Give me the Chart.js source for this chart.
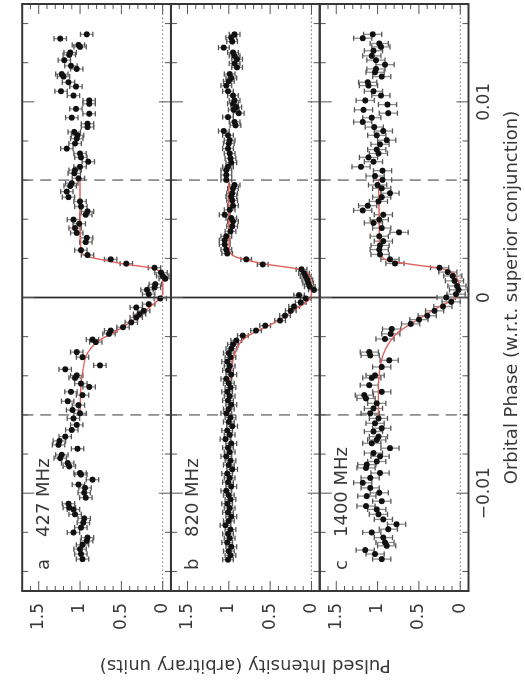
<!DOCTYPE html>
<html>
<head>
<meta charset="utf-8">
<script src="https://cdn.jsdelivr.net/npm/chart.js@4.4.1/dist/chart.umd.min.js"></script>
<style>
html, body { margin: 0; padding: 0; background: #fff; overflow: hidden; }
#turn { position: absolute; left: 0; top: 0; width: 683px; height: 525px;
        transform-origin: 0 0; transform: translate(0, 683px) rotate(-90deg); }
</style>
</head>
<body>
<div id="turn"><canvas id="fig" width="683" height="525"></canvas></div>
<script>
// panel a, 427 MHz
var phaseA = [0.01345, 0.01323, 0.01291, 0.01281, 0.01252, 0.01240, 0.01213, 0.01184, 0.01168, 0.01142,
    0.01129, 0.01100, 0.01078, 0.01054, 0.01032, 0.01007, 0.00990, 0.00964, 0.00939, 0.00919,
    0.00888, 0.00871, 0.00846, 0.00829, 0.00812, 0.00787, 0.00761, 0.00736, 0.00716, 0.00694,
    0.00668, 0.00651, 0.00635, 0.00609, 0.00584, 0.00570, 0.00541, 0.00513, 0.00491, 0.00465,
    0.00440, 0.00423, 0.00398, 0.00377, 0.00355, 0.00330, 0.00305, 0.00283, 0.00242, 0.00217,
    0.00195, 0.00173, 0.00152, 0.00127, 0.00110, 0.00096, 0.00068, 0.00051, 0.00039, 0.00017,
    -0.00005, -0.00034, -0.00051, -0.00068, -0.00085, -0.00102, -0.00127, -0.00152, -0.00169, -0.00186,
    -0.00215, -0.00228, -0.00279, -0.00305, -0.00347, -0.00367, -0.00398, -0.00411, -0.00440, -0.00457,
    -0.00482, -0.00499, -0.00530, -0.00550, -0.00575, -0.00592, -0.00618, -0.00651, -0.00677, -0.00711,
    -0.00733, -0.00753, -0.00773, -0.00804, -0.00821, -0.00846, -0.00863, -0.00897, -0.00905, -0.00931,
    -0.00956, -0.00973, -0.00998, -0.01023, -0.01054, -0.01074, -0.01083, -0.01108, -0.01129, -0.01151,
    -0.01176, -0.01201, -0.01227, -0.01244, -0.01264, -0.01286, -0.01311, -0.01337];
var intA = [0.92, 1.24, 1.02, 1.00, 1.12, 1.13, 1.19, 1.11, 1.04, 1.22,
    1.20, 1.14, 1.05, 1.23, 1.08, 0.89, 0.89, 1.05, 0.89, 1.10,
    0.91, 0.91, 1.07, 1.03, 1.04, 1.06, 1.16, 1.00, 0.99, 0.90,
    1.00, 1.06, 1.07, 1.02, 1.10, 1.12, 1.16, 1.14, 1.00, 0.99,
    0.91, 0.93, 1.08, 1.01, 1.06, 1.04, 0.92, 0.93, 0.99, 0.91,
    0.63, 0.44, 0.10, 0.02, 0.00, -0.03, 0.09, 0.10, 0.19, 0.17,
    0.03, 0.17, 0.32, 0.23, 0.28, 0.32, 0.38, 0.48, 0.63, 0.65,
    0.85, 0.81, 1.04, 0.97, 0.76, 1.18, 1.04, 1.06, 0.99, 0.89,
    1.11, 0.97, 1.15, 1.02, 1.09, 1.00, 1.08, 1.04, 1.10, 1.18,
    1.25, 1.26, 1.03, 1.22, 1.24, 1.15, 1.13, 1.00, 0.99, 0.85,
    1.02, 0.94, 0.95, 0.93, 1.14, 1.13, 1.08, 1.06, 0.95, 0.96,
    0.99, 1.08, 0.91, 0.92, 0.97, 1.00, 0.99, 0.97];
var errA = 0.075;

// panel b, 820 MHz
var phaseB = [0.01345, 0.01328, 0.01308, 0.01277, 0.01252, 0.01235, 0.01218, 0.01196, 0.01176, 0.01142,
    0.01122, 0.01105, 0.01083, 0.01054, 0.01032, 0.01007, 0.00990, 0.00973, 0.00959, 0.00942,
    0.00922, 0.00897, 0.00880, 0.00851, 0.00829, 0.00804, 0.00787, 0.00761, 0.00736, 0.00711,
    0.00689, 0.00668, 0.00651, 0.00626, 0.00601, 0.00575, 0.00558, 0.00533, 0.00516, 0.00496,
    0.00469, 0.00448, 0.00423, 0.00406, 0.00389, 0.00364, 0.00338, 0.00313, 0.00293, 0.00271,
    0.00245, 0.00225, 0.00195, 0.00169, 0.00144, 0.00124, 0.00107, 0.00090, 0.00073, 0.00056,
    0.00039, 0.00012, -0.00005, -0.00025, -0.00046, -0.00068, -0.00093, -0.00118, -0.00144, -0.00169,
    -0.00195, -0.00220, -0.00240, -0.00262, -0.00284, -0.00306, -0.00328, -0.00350, -0.00372, -0.00394,
    -0.00416, -0.00438, -0.00460, -0.00482, -0.00504, -0.00526, -0.00548, -0.00570, -0.00592, -0.00614,
    -0.00636, -0.00658, -0.00680, -0.00702, -0.00724, -0.00746, -0.00768, -0.00790, -0.00812, -0.00834,
    -0.00856, -0.00878, -0.00900, -0.00922, -0.00944, -0.00966, -0.00988, -0.01010, -0.01032, -0.01054,
    -0.01076, -0.01098, -0.01120, -0.01142, -0.01164, -0.01186, -0.01208, -0.01230, -0.01252, -0.01274,
    -0.01296, -0.01318, -0.01340];
var intB = [0.93, 0.97, 0.96, 1.06, 0.95, 0.93, 0.90, 0.93, 0.90, 0.99,
    0.97, 1.00, 1.03, 1.01, 0.95, 0.93, 0.95, 0.91, 0.94, 0.88,
    1.01, 0.93, 0.92, 1.06, 1.01, 0.99, 1.00, 1.01, 0.99, 0.98,
    0.97, 1.01, 1.03, 1.03, 1.03, 0.93, 0.95, 0.96, 0.97, 0.96,
    0.95, 0.99, 1.05, 0.97, 0.95, 0.96, 0.98, 1.03, 1.05, 1.05,
    1.03, 1.02, 0.79, 0.59, 0.12, 0.09, 0.07, 0.05, 0.04, 0.02,
    -0.03, 0.15, 0.07, 0.13, 0.21, 0.25, 0.32, 0.38, 0.56, 0.67,
    0.83, 0.91, 0.95, 0.97, 1.00, 0.98, 1.02, 0.99, 1.01, 0.97,
    1.03, 1.00, 0.98, 1.02, 0.99, 1.01, 0.97, 1.00, 1.03, 0.98,
    1.00, 0.96, 1.02, 0.99, 1.04, 0.97, 1.01, 0.99, 1.03, 0.98,
    1.00, 0.96, 1.02, 0.99, 1.01, 0.97, 1.03, 1.00, 0.98, 1.02,
    0.99, 1.01, 0.97, 1.00, 1.04, 0.98, 1.01, 0.99, 1.02, 0.97,
    1.00, 0.98, 1.01];
var errB = 0.065;

// panel c, 1400 MHz
var phaseC = [0.01345, 0.01325, 0.01298, 0.01281, 0.01261, 0.01235, 0.01213, 0.01190, 0.01168, 0.01151,
    0.01129, 0.01100, 0.01083, 0.01054, 0.01032, 0.01007, 0.00986, 0.00959, 0.00942, 0.00919,
    0.00897, 0.00871, 0.00851, 0.00829, 0.00804, 0.00783, 0.00756, 0.00736, 0.00716, 0.00694,
    0.00668, 0.00648, 0.00621, 0.00601, 0.00575, 0.00558, 0.00533, 0.00513, 0.00491, 0.00469,
    0.00445, 0.00423, 0.00398, 0.00381, 0.00355, 0.00333, 0.00313, 0.00288, 0.00266, 0.00245,
    0.00220, 0.00195, 0.00174, 0.00152, 0.00130, 0.00110, 0.00085, 0.00059, 0.00039, 0.00017,
    0.00000, -0.00022, -0.00046, -0.00068, -0.00093, -0.00113, -0.00135, -0.00161, -0.00186, -0.00212,
    -0.00279, -0.00296, -0.00321, -0.00355, -0.00398, -0.00411, -0.00448, -0.00482, -0.00499, -0.00516,
    -0.00541, -0.00567, -0.00592, -0.00618, -0.00643, -0.00668, -0.00685, -0.00711, -0.00728, -0.00745,
    -0.00770, -0.00795, -0.00812, -0.00838, -0.00854, -0.00871, -0.00897, -0.00922, -0.00947, -0.00973,
    -0.00998, -0.01015, -0.01041, -0.01066, -0.01083, -0.01108, -0.01134, -0.01159, -0.01184, -0.01201,
    -0.01227, -0.01252, -0.01269, -0.01291, -0.01311, -0.01337];
var intC = [1.06, 1.18, 0.98, 0.96, 1.05, 1.07, 1.02, 0.91, 1.02, 1.03,
    0.95, 1.12, 1.11, 1.05, 0.96, 1.15, 0.88, 1.17, 0.87, 1.07,
    1.18, 1.04, 0.93, 1.01, 0.89, 0.97, 1.01, 0.99, 1.11, 1.05,
    1.20, 0.94, 1.03, 0.94, 1.00, 0.95, 0.85, 0.95, 0.99, 1.12,
    1.18, 0.93, 0.98, 1.05, 0.95, 0.74, 0.98, 0.93, 0.97, 0.98,
    0.97, 0.85, 0.79, 0.25, 0.15, 0.09, 0.07, 0.04, 0.02, 0.05,
    0.17, 0.11, 0.21, 0.31, 0.40, 0.50, 0.60, 0.83, 0.84, 0.91,
    1.10, 1.09, 0.86, 0.95, 1.03, 1.07, 1.10, 0.95, 1.16, 1.14,
    1.01, 1.05, 1.09, 0.99, 1.03, 0.95, 1.05, 0.99, 1.01, 1.07,
    0.85, 1.05, 0.97, 1.01, 1.13, 1.14, 0.97, 1.09, 1.18, 1.09,
    0.98, 1.13, 0.95, 1.14, 1.01, 0.99, 0.93, 0.77, 0.87, 1.07,
    0.93, 0.91, 0.89, 1.15, 1.03, 0.95];
var errC = 0.11;

// fitted eclipse model (red curve)
var modelPhase = [-0.0060, -0.0045, -0.0036, -0.0030, -0.0026, -0.0022, -0.0018, -0.0014, -0.0010, -0.0006,
    -0.0003, 0.0000, 0.0002, 0.0006, 0.0010, 0.0013, 0.0015, 0.0017, 0.0019, 0.0021, 0.0024, 0.0040, 0.0060];
var modelA = [1.00, 0.99, 0.96, 0.93, 0.87, 0.77, 0.60, 0.44, 0.30, 0.19,
    0.10, 0.03, 0.00, 0.00, 0.00, 0.03, 0.12, 0.45, 0.70, 0.91, 0.99, 1.00, 1.00];
var modelB = [1.00, 0.99, 0.97, 0.94, 0.90, 0.84, 0.70, 0.50, 0.33, 0.20,
    0.08, 0.01, 0.00, 0.00, 0.02, 0.06, 0.22, 0.55, 0.77, 0.93, 0.99, 1.00, 1.00];
var modelC = [0.99, 0.99, 0.97, 0.94, 0.90, 0.84, 0.76, 0.62, 0.46, 0.31,
    0.17, 0.05, 0.02, 0.01, 0.04, 0.10, 0.25, 0.60, 0.88, 0.95, 0.97, 0.98, 0.99];

var phaseTicks = [-0.01, 0, 0.01];
var intensityTicks = [0, 0.5, 1, 1.5];
var limbPhase = [-0.006, 0.006];
var panelNames = ['a', 'b', 'c'];
var bands = ['427 MHz', '820 MHz', '1400 MHz'];

var axisIds = ['ya', 'yb', 'yc'];
var FONT = 'DejaVu Sans';
var INK = '#383838';

function pts(xs, ys) {
    return xs.map(function(x, i) { return { x: x, y: ys[i] }; });
}

function line(ctx, x1, y1, x2, y2) {
    ctx.beginPath();
    ctx.moveTo(x1, y1);
    ctx.lineTo(x2, y2);
    ctx.stroke();
}

var panelDeco = {
    id: 'panelDeco',
    beforeDatasetsDraw: function(chart) {
        var ctx = chart.ctx, x = chart.scales.x;
        ctx.save();
        axisIds.forEach(function(id) {
            var y = chart.scales[id];
            var y0 = y.getPixelForValue(0);
            ctx.strokeStyle = '#777';
            ctx.lineWidth = 1;
            ctx.setLineDash([1.5, 2.5]);
            line(ctx, x.left, y0, x.right, y0);
            ctx.strokeStyle = '#8a8a8a';
            ctx.lineWidth = 1.7;
            ctx.setLineDash([11, 7]);
            limbPhase.forEach(function(p) {
                var px = x.getPixelForValue(p);
                line(ctx, px, y.top, px, y.bottom);
            });
            ctx.setLineDash([]);
            ctx.strokeStyle = '#2a2a2a';
            ctx.lineWidth = 1.7;
            var pz = x.getPixelForValue(0);
            line(ctx, pz, y.top, pz, y.bottom);
        });
        // error bars
        chart.data.datasets.forEach(function(ds) {
            if (!ds.err) return;
            var y = chart.scales[ds.yAxisID];
            ds.data.forEach(function(p) {
                var px = x.getPixelForValue(p.x);
                var lo = y.getPixelForValue(p.y - ds.err);
                var hi = y.getPixelForValue(p.y + ds.err);
                ctx.strokeStyle = '#8c8c8c';
                ctx.lineWidth = 1.3;
                line(ctx, px, lo, px, hi);
                ctx.strokeStyle = '#555';
                line(ctx, px - 2.6, lo, px + 2.6, lo);
                line(ctx, px - 2.6, hi, px + 2.6, hi);
            });
        });
        ctx.restore();
    },
    afterDatasetsDraw: function(chart) {
        var ctx = chart.ctx, x = chart.scales.x;
        ctx.save();
        axisIds.forEach(function(id, i) {
            var y = chart.scales[id];
            ctx.strokeStyle = '#555';
            ctx.lineWidth = 1;
            for (var k = -7; k <= 7; k++) {
                var px = x.getPixelForValue(k * 0.002);
                var len = (k % 5 === 0) ? 12 : 6;
                line(ctx, px, y.top, px, y.top + len);
                line(ctx, px, y.bottom, px, y.bottom - len);
            }
            for (var j = -1; j <= 17; j++) {
                var py = y.getPixelForValue(j / 10);
                var l2 = (j % 5 === 0) ? 10 : 5;
                line(ctx, x.left, py, x.left + l2, py);
                line(ctx, x.right, py, x.right - l2, py);
            }
            ctx.strokeStyle = INK;
            ctx.lineWidth = 2;
            ctx.strokeRect(x.left, y.top, x.right - x.left, y.bottom - y.top);
            ctx.fillStyle = INK;
            ctx.font = '18px "' + FONT + '"';
            ctx.textBaseline = 'alphabetic';
            ctx.fillText(panelNames[i], x.left + 21, y.top + 27);
            ctx.fillText(bands[i], x.left + 54, y.top + 27);
        });
        ctx.restore();
    }
};

function yAxis(title) {
    return {
        type: 'linear',
        position: 'left',
        stack: 'pulse',
        stackWeight: 1,
        min: -0.1,
        max: 1.7,
        offset: false,
        grid: { display: false, drawTicks: false },
        border: { display: false },
        afterBuildTicks: function(s) {
            s.ticks = intensityTicks.map(function(v) { return { value: v }; });
        },
        ticks: {
            padding: 12,
            color: INK,
            font: { family: FONT, size: 17 },
            callback: function(v) { return String(v); }
        },
        title: {
            display: !!title,
            text: title || '',
            color: INK,
            font: { family: FONT, size: 18 },
            padding: { top: 8, bottom: 0 }
        },
        afterFit: function(s) { s.width = 92; }
    };
}

var datasets = [];
[[phaseA, intA, errA, modelA], [phaseB, intB, errB, modelB], [phaseC, intC, errC, modelC]].forEach(function(p, i) {
    datasets.push({
        data: pts(p[0], p[1]),
        yAxisID: axisIds[i],
        err: p[2],
        pointRadius: 3,
        pointBackgroundColor: '#111',
        pointBorderWidth: 0,
        order: 0
    });
    datasets.push({
        data: pts(modelPhase, p[3]),
        yAxisID: axisIds[i],
        showLine: true,
        pointRadius: 0,
        borderColor: '#e0625e',
        borderWidth: 1.4,
        cubicInterpolationMode: 'monotone',
        order: 1
    });
});

new Chart(document.getElementById('fig'), {
    type: 'scatter',
    data: { datasets: datasets },
    options: {
        responsive: false,
        animation: false,
        devicePixelRatio: 1,
        layout: { padding: { top: 8, left: 0, right: 0, bottom: 0 } },
        plugins: { legend: { display: false }, tooltip: { enabled: false } },
        scales: {
            x: {
                type: 'linear',
                min: -0.015,
                max: 0.015,
                grid: { display: false, drawTicks: false },
                border: { display: false },
                afterBuildTicks: function(s) {
                    s.ticks = phaseTicks.map(function(v) { return { value: v }; });
                },
                ticks: {
                    padding: 6,
                    maxRotation: 0,
                    autoSkip: false,
                    color: INK,
                    font: { family: FONT, size: 17 },
                    callback: function(v) {
                        if (v === 0) return '0';
                        return (v < 0 ? '\u2212' : '') + Math.abs(v).toString();
                    }
                },
                title: {
                    display: true,
                    text: 'Orbital Phase (w.r.t. superior conjunction)',
                    color: INK,
                    font: { family: FONT, size: 18 },
                    padding: { top: 0, bottom: 2 }
                },
                afterFit: function(s) { s.height = 56.5; }
            },
            yc: yAxis(''),
            yb: yAxis('Pulsed Intensity (arbitrary units)'),
            ya: yAxis('')
        }
    },
    plugins: [panelDeco]
});
</script>
</body>
</html>
